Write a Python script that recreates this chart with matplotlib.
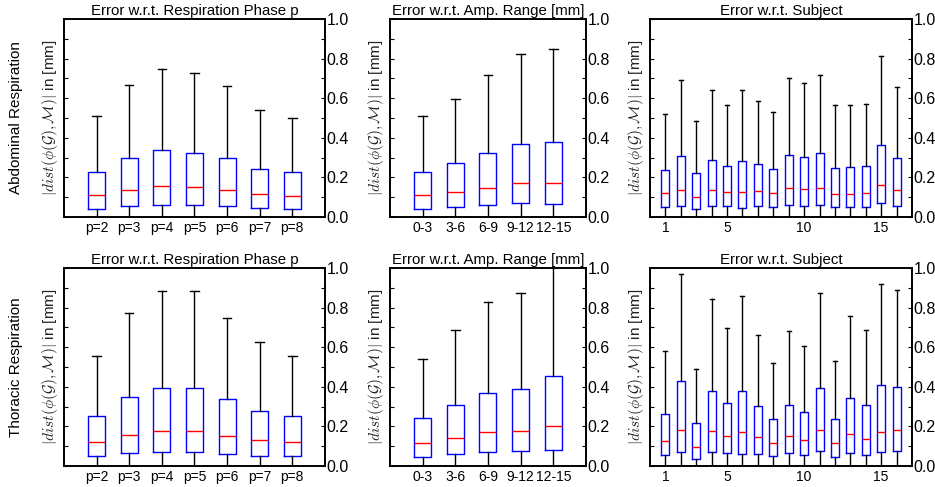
import matplotlib
matplotlib.use('Agg')
import matplotlib.pyplot as plt
import numpy as np

plt.rcParams['font.family'] = ['Liberation Sans', 'DejaVu Sans']
plt.rcParams['mathtext.fontset'] = 'cm'

# ---- data (q1, median, q3, upper whisker) ----
phase_labels = ['p=2', 'p=3', 'p=4', 'p=5', 'p=6', 'p=7', 'p=8']
amp_labels = ['0-3', '3-6', '6-9', '9-12', '12-15']
subjects = list(range(1, 17))

# abdominal respiration
abd_phase_q1 = [0.042, 0.054, 0.062, 0.059, 0.054, 0.045, 0.042]
abd_phase_med = [0.109, 0.134, 0.156, 0.150, 0.136, 0.114, 0.106]
abd_phase_q3 = [0.229, 0.296, 0.336, 0.324, 0.296, 0.242, 0.225]
abd_phase_hi = [0.508, 0.666, 0.748, 0.726, 0.661, 0.541, 0.501]

abd_amp_q1 = [0.042, 0.050, 0.059, 0.069, 0.067]
abd_amp_med = [0.109, 0.126, 0.148, 0.170, 0.171]
abd_amp_q3 = [0.229, 0.271, 0.323, 0.368, 0.378]
abd_amp_hi = [0.508, 0.598, 0.719, 0.822, 0.847]

abd_subj_q1 = [0.052, 0.055, 0.040, 0.055, 0.054, 0.047, 0.054, 0.052,
               0.060, 0.054, 0.059, 0.049, 0.049, 0.052, 0.069, 0.055]
abd_subj_med = [0.121, 0.138, 0.101, 0.134, 0.126, 0.128, 0.129, 0.121,
                0.149, 0.139, 0.149, 0.117, 0.117, 0.122, 0.164, 0.136]
abd_subj_q3 = [0.238, 0.310, 0.220, 0.289, 0.258, 0.285, 0.268, 0.243,
               0.315, 0.302, 0.324, 0.250, 0.255, 0.258, 0.364, 0.299]
abd_subj_hi = [0.522, 0.693, 0.487, 0.641, 0.565, 0.643, 0.587, 0.532,
               0.701, 0.678, 0.718, 0.565, 0.567, 0.572, 0.812, 0.659]

# thoracic respiration
tho_phase_q1 = [0.049, 0.064, 0.073, 0.073, 0.062, 0.052, 0.049]
tho_phase_med = [0.120, 0.157, 0.177, 0.177, 0.153, 0.130, 0.120]
tho_phase_q3 = [0.253, 0.346, 0.396, 0.396, 0.336, 0.280, 0.253]
tho_phase_hi = [0.558, 0.771, 0.882, 0.882, 0.745, 0.624, 0.558]

tho_amp_q1 = [0.046, 0.059, 0.071, 0.074, 0.079]
tho_amp_med = [0.115, 0.143, 0.170, 0.179, 0.204]
tho_amp_q3 = [0.241, 0.307, 0.371, 0.391, 0.457]
tho_amp_hi = [0.540, 0.685, 0.828, 0.874, 1.05]

tho_subj_q1 = [0.054, 0.071, 0.037, 0.073, 0.064, 0.062, 0.061, 0.049,
               0.064, 0.056, 0.074, 0.047, 0.067, 0.057, 0.069, 0.074]
tho_subj_med = [0.128, 0.180, 0.098, 0.175, 0.150, 0.170, 0.145, 0.115,
                0.152, 0.130, 0.180, 0.118, 0.162, 0.138, 0.174, 0.180]
tho_subj_q3 = [0.265, 0.428, 0.219, 0.381, 0.317, 0.379, 0.304, 0.236,
               0.310, 0.275, 0.393, 0.239, 0.344, 0.310, 0.408, 0.400]
tho_subj_hi = [0.583, 0.970, 0.489, 0.845, 0.696, 0.857, 0.664, 0.518,
               0.681, 0.605, 0.874, 0.528, 0.759, 0.686, 0.919, 0.889]


def make_stats(q1, med, q3, hi):
    return [dict(q1=a, med=b, q3=c, whislo=0.0, whishi=d, fliers=[])
            for a, b, c, d in zip(q1, med, q3, hi)]


fig = plt.figure(figsize=(9.35, 4.87), dpi=100)

cols_x = [(0.0684, 0.2791), (0.4171, 0.2096), (0.6952, 0.2802)]
rows_y = [0.5544, 0.0431]
row_h = 0.4066

panels = [
    [(make_stats(abd_phase_q1, abd_phase_med, abd_phase_q3, abd_phase_hi), 'Error w.r.t. Respiration Phase p'),
     (make_stats(abd_amp_q1, abd_amp_med, abd_amp_q3, abd_amp_hi), 'Error w.r.t. Amp. Range [mm]'),
     (make_stats(abd_subj_q1, abd_subj_med, abd_subj_q3, abd_subj_hi), 'Error w.r.t. Subject')],
    [(make_stats(tho_phase_q1, tho_phase_med, tho_phase_q3, tho_phase_hi), 'Error w.r.t. Respiration Phase p'),
     (make_stats(tho_amp_q1, tho_amp_med, tho_amp_q3, tho_amp_hi), 'Error w.r.t. Amp. Range [mm]'),
     (make_stats(tho_subj_q1, tho_subj_med, tho_subj_q3, tho_subj_hi), 'Error w.r.t. Subject')],
]
row_names = ['Abdominal Respiration', 'Thoracic Respiration']
ylab = r'$|dist(\phi(\mathcal{G}),\mathcal{M})|$ in [mm]'

for r in range(2):
    for c in range(3):
        stats, title = panels[r][c]
        ax = fig.add_axes([cols_x[c][0], rows_y[r], cols_x[c][1], row_h])
        n = len(stats)
        ax.bxp(stats, positions=range(1, n + 1), widths=0.52, showfliers=False,
               boxprops=dict(color='blue', linewidth=1.0),
               medianprops=dict(color='red', linewidth=1.0),
               whiskerprops=dict(color='black', linewidth=1.0),
               capprops=dict(color='black', linewidth=1.0))
        ax.set_xlim(0, n + 1)
        ax.set_ylim(0, 1.0)
        if c == 0:
            ax.set_xticks(range(1, n + 1))
            ax.set_xticklabels(phase_labels)
        elif c == 1:
            ax.set_xticks(range(1, n + 1))
            ax.set_xticklabels(amp_labels)
        else:
            ax.set_xticks([1, 5, 10, 15])
            ax.set_xticklabels(['1', '5', '10', '15'])
        ax.set_yticks(np.arange(0, 1.01, 0.2))
        ax.set_yticks(np.arange(0.1, 1.0, 0.2), minor=True)
        ax.yaxis.tick_right()
        ax.tick_params(axis='y', which='both', left=True, right=True,
                       direction='in', length=3, width=0.8,
                       labelsize=11.5, pad=1)
        ax.tick_params(axis='x', direction='in', length=0, labelsize=10, pad=3)
        for s in ax.spines.values():
            s.set_linewidth(1.4)
        ax.set_title(title, fontsize=10.8, pad=3)
        ax.yaxis.set_label_position('left')
        ax.set_ylabel(ylab, fontsize=11, color='#222222', labelpad=3)

    fig.text(0.017, rows_y[r] + row_h / 2, row_names[r], rotation=90,
             ha='center', va='center', fontsize=11)

fig.savefig('out.png', dpi=100)
